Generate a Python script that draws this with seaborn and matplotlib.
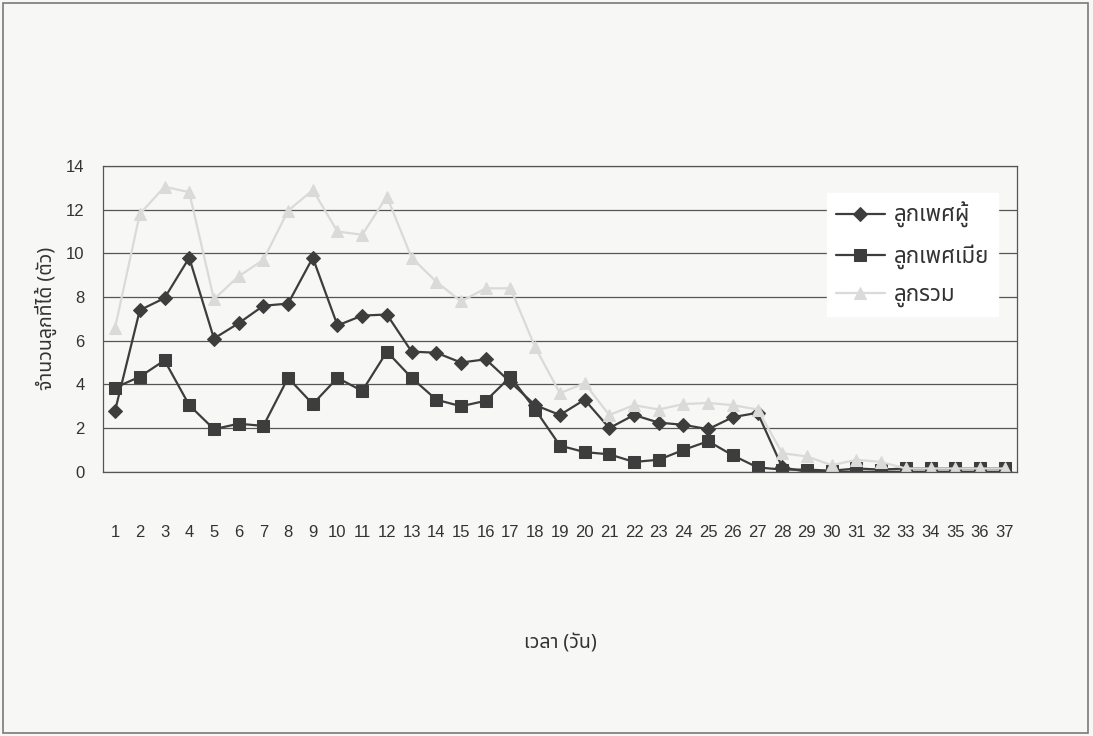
import matplotlib
matplotlib.use("Agg")
import matplotlib.pyplot as plt
from matplotlib.patches import Rectangle
import pandas as pd
import seaborn as sns

# ข้อมูลจำนวนลูกที่ได้ต่อวัน
days = list(range(1, 38))
male = [2.8, 7.4, 7.95, 9.8, 6.1, 6.8, 7.6, 7.7, 9.8, 6.7, 7.15, 7.2, 5.5, 5.45, 5.0, 5.15, 4.1, 3.05, 2.6,
        3.3, 2.0, 2.6, 2.25, 2.15, 1.95, 2.5, 2.7, 0.2, 0, 0, 0, 0, 0, 0, 0, 0, 0]
female = [3.85, 4.35, 5.1, 3.05, 1.95, 2.2, 2.1, 4.3, 3.1, 4.3, 3.7, 5.5, 4.3, 3.3, 3.0, 3.25, 4.35, 2.85, 1.2,
          0.9, 0.8, 0.45, 0.55, 1.0, 1.4, 0.75, 0.2, 0.1, 0.1, 0.05, 0.15, 0.1, 0.15, 0.15, 0.15, 0.15, 0.15]
total = [6.6, 11.8, 13.05, 12.8, 7.9, 8.95, 9.7, 11.95, 12.9, 11.0, 10.85, 12.6, 9.8, 8.7, 7.8, 8.4, 8.4, 5.7, 3.6,
         4.05, 2.6, 3.05, 2.85, 3.1, 3.15, 3.05, 2.85, 0.85, 0.7, 0.3, 0.55, 0.45, 0.15, 0.15, 0.15, 0.15, 0.15]
labels = ["ลูกเพศผู้", "ลูกเพศเมีย", "ลูกรวม"]
yticks = [0, 2, 4, 6, 8, 10, 12, 14]

sns.set_style("white")
plt.rcParams['font.family'] = ['Noto Sans Thai', 'DejaVu Sans']
num_font = ['Liberation Sans Narrow', 'Liberation Sans', 'DejaVu Sans']

paper = '#f7f7f5'
dark = '#3d3d3d'
light = '#dadada'

fig = plt.figure(figsize=(10.93, 7.36), dpi=100, facecolor=paper)
ax = fig.add_axes([0.094, 0.359, 0.8365, 0.4155])
ax.set_facecolor(paper)

# กรอบรอบรูป
fig.patches.append(Rectangle((0.0025, 0.004), 0.993, 0.992, transform=fig.transFigure,
                             fill=False, edgecolor='#7a7a7a', linewidth=1.2))

df = pd.DataFrame({'day': days, 'male': male, 'female': female, 'total': total})

sns.lineplot(data=df, x='day', y='male', ax=ax, color=dark, linewidth=1.6, marker='D',
             markersize=7, markeredgecolor=dark, markerfacecolor=dark, label=labels[0])
sns.lineplot(data=df, x='day', y='female', ax=ax, color=dark, linewidth=1.6, marker='s',
             markersize=9, markeredgecolor=dark, markerfacecolor=dark, label=labels[1])
sns.lineplot(data=df, x='day', y='total', ax=ax, color=light, linewidth=1.6, marker='^',
             markersize=9, markeredgecolor=light, markerfacecolor=light, label=labels[2])

ax.set_xlim(0.5, 37.5)
ax.set_ylim(0, 14)
ax.set_yticks(yticks)
ax.set_xticks(days)
ax.set_xticks([d + 0.5 for d in range(0, 38)], minor=True)
ax.tick_params(axis='x', which='major', length=0, pad=38)
ax.tick_params(axis='x', which='minor', length=7, width=0.8, color='#555555', direction='out')
ax.tick_params(axis='y', length=7, width=0.8, color='#555555', direction='out', pad=6)
for t in ax.get_xticklabels():
    t.set_family(num_font)
    t.set_fontsize(12)
    t.set_color('#333333')
for t in ax.get_yticklabels():
    t.set_family(num_font)
    t.set_fontsize(12)
    t.set_color('#333333')

ax.grid(axis='y', color='#555555', linewidth=0.9)
ax.grid(axis='x', visible=False)
for s in ax.spines.values():
    s.set_color('#555555')
    s.set_linewidth(0.9)

ax.set_xlabel("เวลา (วัน)", fontsize=14, color='#333333')
ax.xaxis.set_label_coords(0.5, -0.53)
ax.set_ylabel("จำนวนลูกที่ได้ (ตัว)", fontsize=14, color='#333333')
ax.yaxis.set_label_coords(-0.05, 0.5)

leg = ax.legend(loc='upper left', bbox_to_anchor=(0.78, 0.947), frameon=True, fontsize=16,
                handlelength=2.2, labelspacing=0.72, borderpad=0.4, handletextpad=0.4)
leg.get_frame().set_facecolor('white')
leg.get_frame().set_edgecolor('white')
leg.get_frame().set_alpha(1)
leg.get_frame().set_boxstyle('square', pad=0)
for t in leg.get_texts():
    t.set_color('#333333')

fig.savefig("out.png", dpi=100, facecolor=paper)
